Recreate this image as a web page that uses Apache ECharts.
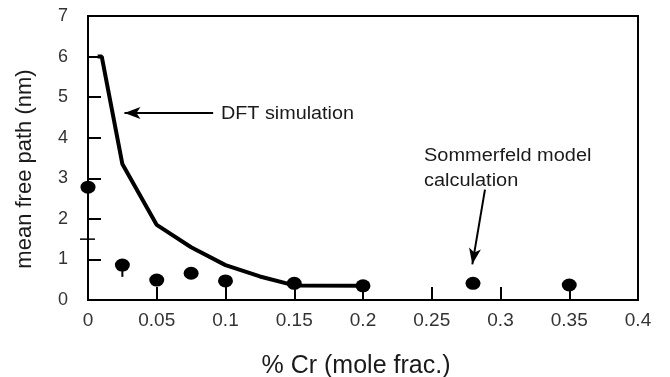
<!DOCTYPE html>
<html>
<head>
<meta charset="utf-8">
<script src="https://cdn.jsdelivr.net/npm/echarts@6/dist/echarts.min.js"></script>
<style>html,body{margin:0;padding:0;background:#fff;}#c{width:670px;height:377px;}</style>
</head>
<body>
<div id="c"></div>
<script>
var dftX = [0.007, 0.01, 0.025, 0.05, 0.075, 0.1, 0.125, 0.15, 0.2];
var dftY = [6.0, 6.0, 3.35, 1.85, 1.3, 0.86, 0.58, 0.36, 0.35];
var somX = [0, 0.025, 0.05, 0.075, 0.1, 0.15, 0.2, 0.28, 0.35];
var somY = [2.78, 0.86, 0.49, 0.66, 0.47, 0.41, 0.35, 0.41, 0.37];
var errX = [0.025];
var errHigh = [0.86];
var errLow = [0.57];
var errCap = [0.76];
var yMinorTicks = [1.5];
var xTicks = [0, 0.05, 0.1, 0.15, 0.2, 0.25, 0.3, 0.35, 0.4];
var yTicks = [0, 1, 2, 3, 4, 5, 6, 7];

var font = 'Liberation Sans, Arial, sans-serif';
var chart = echarts.init(document.getElementById('c'));
function pairs(xs, ys){ return xs.map(function(x,i){return [x, ys[i]];}); }

chart.setOption({
  animation: false,
  grid: {left: 88, right: 32, top: 16, bottom: 77, show: true, borderColor: '#000', borderWidth: 2, outerBoundsMode: 'none', containLabel: false},
  xAxis: {
    type: 'value', min: xTicks[0], max: xTicks[xTicks.length-1], interval: 0.05,
    name: '% Cr (mole frac.)', nameLocation: 'middle', nameGap: 54,
    nameTextStyle: {fontSize: 25, color: '#1a1a1a', fontFamily: font, padding: [0, 14, 0, 0]},
    axisLine: {show: true, lineStyle: {color: '#000', width: 2}},
    axisTick: {show: true, inside: true, length: 13, lineStyle: {color: '#000', width: 2}},
    axisLabel: {fontSize: 19, color: '#333', margin: 11, fontFamily: font},
    splitLine: {show: false}
  },
  yAxis: {
    type: 'value', min: yTicks[0], max: yTicks[yTicks.length-1], interval: 1,
    name: 'mean free path (nm)', nameLocation: 'middle', nameGap: 52, nameRotate: 90,
    nameTextStyle: {fontSize: 22, color: '#1a1a1a', fontFamily: font, padding: [0, 22, 0, 0]},
    axisLine: {show: true, lineStyle: {color: '#000', width: 2}},
    axisTick: {show: true, inside: true, length: 13, lineStyle: {color: '#000', width: 2}},
    axisLabel: {fontSize: 18, color: '#333', margin: 20, fontFamily: font},
    splitLine: {show: false}
  },
  series: [
    {
      type: 'line', data: pairs(dftX, dftY), symbol: 'none',
      lineStyle: {color: '#000', width: 4}, z: 3,
      markLine: {
        silent: true, symbol: ['none', 'arrow'], symbolSize: [9, 16],
        lineStyle: {color: '#000', width: 2, type: 'solid'}, label: {show: false},
        data: [
          [{coord: [0.091, 4.61]}, {coord: [0.0265, 4.61]}],
          [{coord: [0.2887, 2.72]}, {coord: [0.2795, 0.88]}]
        ]
      }
    },
    {
      type: 'custom', z: 2, clip: false,
      renderItem: function(params, api){
        var x = api.value(0);
        var top = api.coord([x, errHigh[params.dataIndex]]);
        var bot = api.coord([x, api.value(1)]);
        var cap = api.coord([x, errCap[params.dataIndex]]);
        return {type: 'group', children: [
          {type: 'line', shape: {x1: top[0], y1: top[1], x2: bot[0], y2: bot[1]}, style: {stroke: '#000', lineWidth: 2}},
          {type: 'line', shape: {x1: cap[0]-5, y1: cap[1], x2: cap[0]+5, y2: cap[1]}, style: {stroke: '#000', lineWidth: 2}}
        ]};
      },
      data: pairs(errX, errLow)
    },
    {
      type: 'custom', z: 2, clip: false,
      renderItem: function(params, api){
        var p = api.coord([0, api.value(0)]);
        return {type: 'line', shape: {x1: p[0]-8, y1: p[1], x2: p[0]+7, y2: p[1]}, style: {stroke: '#000', lineWidth: 1.5}};
      },
      data: yMinorTicks.map(function(v){return [v];})
    },
    {
      type: 'scatter', data: pairs(somX, somY), symbol: 'circle', symbolSize: [15, 13],
      itemStyle: {color: '#000', opacity: 1}, z: 4, clip: false
    }
  ],
  graphic: [
    {type: 'text', x: 221, y: 105, scaleX: 1.13, style: {text: 'DFT simulation', fontSize: 17.5, fill: '#1a1a1a', fontFamily: font}},
    {type: 'text', x: 424, y: 144, scaleX: 1.14, style: {text: 'Sommerfeld model\ncalculation', fontSize: 17.5, lineHeight: 25, fill: '#1a1a1a', fontFamily: font}}
  ]
});
</script>
</body>
</html>
